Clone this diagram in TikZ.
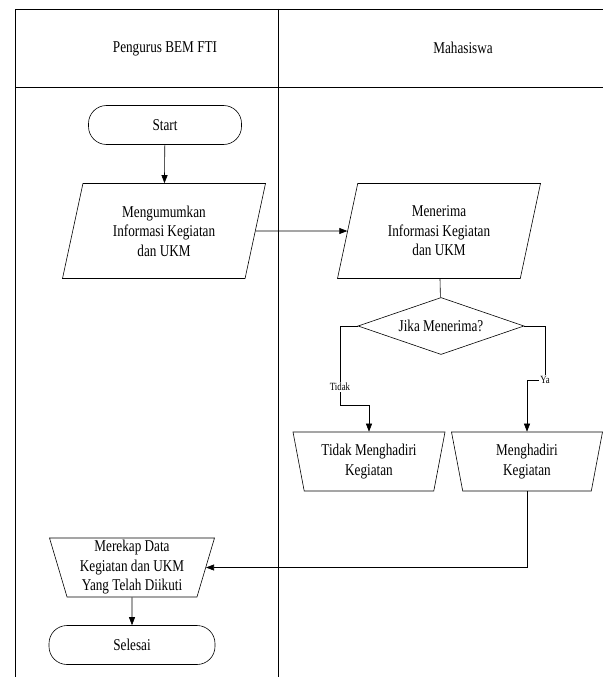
\documentclass[tikz,border=0pt]{standalone}
\usepackage{fontspec}
\setmainfont{Liberation Serif}[FakeStretch=0.8]
\usetikzlibrary{shapes.geometric,arrows.meta}
\tikzset{
  terminal/.style={draw,rounded corners=18pt,minimum width=153pt,minimum height=39pt,inner sep=0pt},
  data/.style={draw,trapezium,trapezium left angle=68,trapezium right angle=112,trapezium stretches body,minimum width=203pt,minimum height=95pt,inner sep=0pt,align=center},
  manual/.style={draw,trapezium,trapezium left angle=108,trapezium right angle=108,trapezium stretches body,minimum height=59pt,inner sep=0pt,align=center},
  decision/.style={draw,diamond,aspect=2.9,minimum width=166pt,minimum height=57pt,inner sep=0pt},
  lbl/.style={fill=white,inner sep=1pt,font=\fontsize{11}{13}\selectfont},
  arr/.style={-{Triangle[length=8pt,width=6pt]}}
}
\begin{document}
\begin{tikzpicture}[x=1pt,y=-1pt,line width=0.6pt,every node/.style={font=\fontsize{16.5}{19.5}\selectfont}]
\useasboundingbox (0,0) rectangle (603,677);
\draw[line width=0.8pt] (15,677) -- (15,9) -- (603,9);
\draw[line width=0.8pt] (15,87) -- (603,87);
\draw[line width=0.8pt] (278,9) -- (278,677);

\node (lane1) at (165,49) {Pengurus BEM FTI};
\node (lane2) at (463,48) {Mahasiswa};

\node[terminal] (start) at (165,125) {Start};
\node[data] (umum) at (164,231) {Mengumumkan\\Informasi Kegiatan\\dan UKM};
\node[data] (terima) at (439,231) {Menerima\\Informasi Kegiatan\\dan UKM};
\node[decision] (cek) at (441,326) {Jika Menerima?};
\node[manual,minimum width=152pt] (tidak) at (369,461.5) {Tidak Menghadiri\\Kegiatan};
\node[manual,minimum width=151pt] (hadir) at (527,461.5) {Menghadiri\\Kegiatan};
\node[manual,minimum width=165pt] (rekap) at (132,567.5) {Merekap Data\\Kegiatan dan UKM\\Yang Telah Diikuti};
\node[terminal,minimum width=166pt] (selesai) at (132,645) {Selesai};

\coordinate (kiri) at (340,405);
\coordinate (kanan) at (545,380);

\draw[arr] (start) -- (umum);
\draw[arr] (umum.east) -- (terima.west);
\draw (terima) -- (cek);
\draw[arr] (cek.west) -| (kiri) -| (tidak.north);
\draw[arr] (cek.east) -| (kanan) -| (hadir.north);
\draw[arr] (hadir.south) |- (rekap.east);
\draw[arr] (rekap) -- (selesai);

\node[lbl] (ltidak) at (340,387) {Tidak};
\node[lbl] (lya) at (545,380) {Ya};
\end{tikzpicture}
\end{document}
